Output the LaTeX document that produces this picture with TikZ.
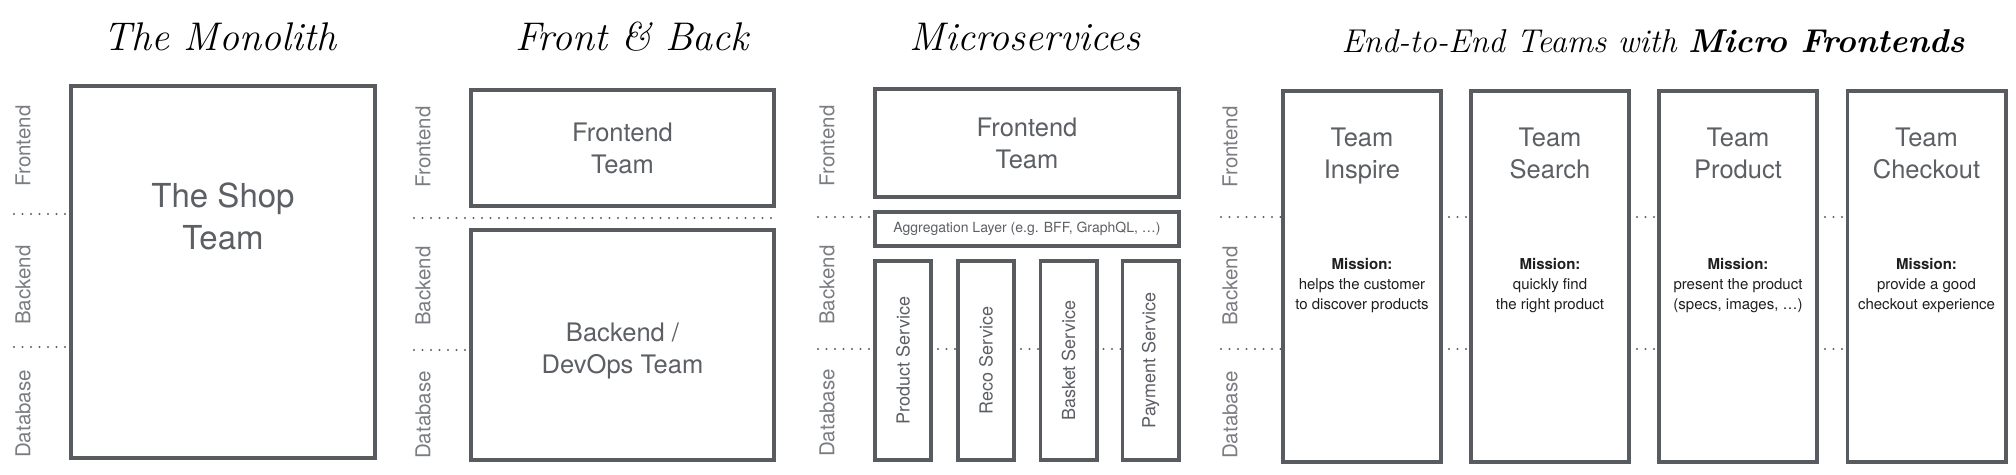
\documentclass[tikz,border=0pt]{standalone}
\usepackage{fontspec}
\setsansfont{TeX Gyre Heros}
\definecolor{boxgray}{HTML}{585B60}
\definecolor{textgray}{HTML}{5C5F64}
\definecolor{lanegray}{HTML}{7A7D82}
\definecolor{dotgray}{HTML}{5E6166}
\definecolor{missionblack}{HTML}{1E1E1E}

\begin{document}
\begin{tikzpicture}[x=1pt,y=-1pt,
  team/.style={draw=boxgray,line width=3.8pt,inner sep=0pt,text=textgray,align=center},
  lane/.style={rotate=90,text=lanegray,font=\sffamily\fontsize{20.5}{20.5}\selectfont},
  teamname/.style={anchor=north,inner sep=0pt,text=textgray,align=center,font=\sffamily\fontsize{25.5}{32}\selectfont},
  service/.style={rotate=90,text=textgray,font=\sffamily\fontsize{18}{18}\selectfont},
  mission/.style={anchor=north,inner sep=0pt,text=missionblack,align=center,font=\sffamily\fontsize{15}{20}\selectfont},
  heading/.style={anchor=base,font=\itshape\fontsize{40}{40}\selectfont},
  sep/.style={dotgray,line width=2.4pt,line cap=round,dash pattern=on 0pt off 8.5pt}]
\fill[white] (0,0) rectangle (2016,474);
\useasboundingbox (0,0) rectangle (2016,474);

\node[heading] (t-mono) at (220,50) {The Monolith};
\node[heading] (t-fb)   at (632,50) {Front \& Back};
\node[heading] (t-ms)   at (1025,50) {Microservices};
\node[heading,font=\itshape\fontsize{33}{33}\selectfont] (t-ee) at (1653,52) {End-to-End Teams with \textbf{Micro Frontends}};

\node[lane] (mono-fe) at (23,146) {Frontend};
\node[lane] (mono-be) at (23,285) {Backend};
\node[lane] (mono-db) at (23,414) {Database};
\node[lane] (fb-fe) at (423,147) {Frontend};
\node[lane] (fb-be) at (423,286) {Backend};
\node[lane] (fb-db) at (423,415) {Database};
\node[lane] (ms-fe) at (827,146) {Frontend};
\node[lane] (ms-be) at (827,285) {Backend};
\node[lane] (ms-db) at (827,413) {Database};
\node[lane] (ee-fe) at (1230,147) {Frontend};
\node[lane] (ee-be) at (1230,286) {Backend};
\node[lane] (ee-db) at (1230,415) {Database};

\node[team,minimum width=304.2pt,minimum height=372.2pt] (shop) at (223,272) {};
\node[teamname,anchor=center,font=\sffamily\fontsize{33}{42}\selectfont] (shop-txt) at (223,216) {The Shop\\Team};

\node[team,minimum width=303.2pt,minimum height=116.2pt,font=\sffamily\fontsize{25.5}{32}\selectfont] (fbfront) at (622.5,148) {Frontend\\Team};
\node[team,minimum width=303.2pt,minimum height=230.2pt] (fbback) at (622.5,345) {};
\node[teamname,anchor=center] (fbback-txt) at (622.5,351) {Backend /\\DevOps Team};

\node[team,minimum width=304.2pt,minimum height=108.2pt,font=\sffamily\fontsize{25.5}{32}\selectfont] (msfront) at (1027,143) {Frontend\\Team};
\node[team,minimum width=304.2pt,minimum height=34.2pt,font=\sffamily\fontsize{14}{14}\selectfont] (agg) at (1027,229) {Aggregation Layer (e.g. BFF, GraphQL, \dots)};
\node[team,minimum width=56.2pt,minimum height=199.2pt] (product) at (903,360.5) {};
\node[team,minimum width=56.2pt,minimum height=199.2pt] (reco) at (986,360.5) {};
\node[team,minimum width=56.2pt,minimum height=199.2pt] (basket) at (1068.5,360.5) {};
\node[team,minimum width=56.2pt,minimum height=199.2pt] (payment) at (1150.5,360.5) {};
\node[service] (product-txt) at (product) {Product Service};
\node[service] (reco-txt) at (reco) {Reco Service};
\node[service] (basket-txt) at (basket) {Basket Service};
\node[service] (payment-txt) at (payment) {Payment Service};

\node[team,minimum width=158.2pt,minimum height=371.2pt] (inspire) at (1362,276.5) {};
\node[team,minimum width=158.2pt,minimum height=371.2pt] (search) at (1550,276.5) {};
\node[team,minimum width=158.2pt,minimum height=371.2pt] (prod) at (1738,276.5) {};
\node[team,minimum width=158.2pt,minimum height=371.2pt] (checkout) at (1926.5,276.5) {};
\node[teamname] (inspire-name) at (1362,128) {Team\\Inspire};
\node[teamname] (search-name) at (1550,128) {Team\\Search};
\node[teamname] (prod-name) at (1738,128) {Team\\Product};
\node[teamname] (checkout-name) at (1926.5,128) {Team\\Checkout};
\node[mission] (inspire-mission) at (1362,258) {\textbf{Mission:}\\helps the customer\\to discover products};
\node[mission] (search-mission) at (1550,258) {\textbf{Mission:}\\quickly find\\the right product};
\node[mission] (prod-mission) at (1738,258) {\textbf{Mission:}\\present the product\\(specs, images, \dots)};
\node[mission] (checkout-mission) at (1926.5,258) {\textbf{Mission:}\\provide a good\\checkout experience};

\coordinate (mono-a) at (14,214);
\coordinate (mono-b) at (14,347);
\draw[sep] (mono-a) -- (shop.west |- mono-a);
\draw[sep] (mono-b) -- (shop.west |- mono-b);

\coordinate (fb-a) at (414,218);
\coordinate (fb-b) at (414,350);
\draw[sep] (fb-a) -- (fbfront.east |- fb-a);
\draw[sep] (fb-b) -- (fbback.west |- fb-b);

\coordinate (ms-a) at (818,217);
\coordinate (ms-b) at (818,349);
\draw[sep] (ms-a) -- (agg.west |- ms-a);
\draw[sep] (ms-b) -- (product.west |- ms-b);
\draw[sep] ([xshift=5pt]product.east |- ms-b) -- (reco.west |- ms-b);
\draw[sep] ([xshift=5pt]reco.east |- ms-b) -- (basket.west |- ms-b);
\draw[sep] ([xshift=5pt]basket.east |- ms-b) -- (payment.west |- ms-b);

\coordinate (ee-a) at (1221,217);
\coordinate (ee-b) at (1221,349);
\draw[sep] (ee-a) -- (inspire.west |- ee-a);
\draw[sep] ([xshift=6pt]inspire.east |- ee-a) -- (search.west |- ee-a);
\draw[sep] ([xshift=6pt]search.east |- ee-a) -- (prod.west |- ee-a);
\draw[sep] ([xshift=6pt]prod.east |- ee-a) -- (checkout.west |- ee-a);
\draw[sep] (ee-b) -- (inspire.west |- ee-b);
\draw[sep] ([xshift=6pt]inspire.east |- ee-b) -- (search.west |- ee-b);
\draw[sep] ([xshift=6pt]search.east |- ee-b) -- (prod.west |- ee-b);
\draw[sep] ([xshift=6pt]prod.east |- ee-b) -- (checkout.west |- ee-b);
\end{tikzpicture}
\end{document}
